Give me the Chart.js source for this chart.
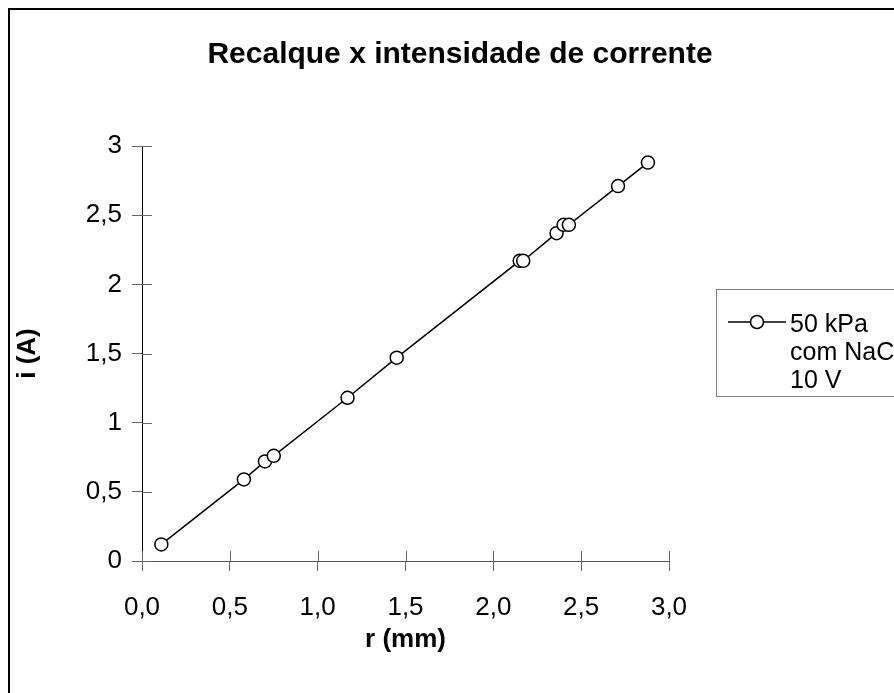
<!DOCTYPE html>
<html>
<head>
<meta charset="utf-8">
<script src="https://cdn.jsdelivr.net/npm/chart.js@4/dist/chart.umd.min.js"></script>
<style>
  html, body { margin: 0; padding: 0; background: #fff; }
  #wrap { width: 894px; height: 693px; }
</style>
</head>
<body>
<div id="wrap"><canvas id="chart" width="894" height="693"></canvas></div>
<script>
// settlement r (mm) against current i (A)
const rValues = [0.11, 0.58, 0.70, 0.75, 1.17, 1.45, 2.15, 2.17, 2.36, 2.40, 2.43, 2.71, 2.88];
const iValues = [0.12, 0.59, 0.72, 0.76, 1.18, 1.47, 2.17, 2.17, 2.37, 2.43, 2.43, 2.71, 2.88];
const legendLines = ['50 kPa', 'com NaCl', '10 V'];
const chartTitle = 'Recalque x intensidade de corrente';
const xTitle = 'r (mm)';
const yTitle = 'i (A)';

const FONT = "'Liberation Sans', Arial, sans-serif";
const comma = v => String(v).replace('.', ',');

// frame, title, legend box and the inner half of the tick marks
const decor = {
  id: 'decor',
  beforeDraw(chart) {
    const ctx = chart.ctx;
    ctx.save();
    ctx.fillStyle = '#fff';
    ctx.fillRect(0, 0, chart.width, chart.height);
    ctx.strokeStyle = '#000';
    ctx.lineWidth = 2;
    ctx.strokeRect(9, 9, 910, 710);
    ctx.restore();
  },
  afterDraw(chart) {
    const ctx = chart.ctx;
    const { x, y } = chart.scales;
    ctx.save();

    // tick marks cross the axes
    ctx.strokeStyle = '#666';
    ctx.lineWidth = 1;
    ctx.beginPath();
    x.ticks.forEach(t => {
      const px = Math.round(x.getPixelForValue(t.value)) + 0.5;
      ctx.moveTo(px, x.top);
      ctx.lineTo(px, x.top - 10);
    });
    y.ticks.forEach(t => {
      const py = Math.round(y.getPixelForValue(t.value)) + 0.5;
      ctx.moveTo(y.right, py);
      ctx.lineTo(y.right + 10, py);
    });
    ctx.stroke();

    // title
    ctx.fillStyle = '#000';
    ctx.font = 'bold 30px ' + FONT;
    ctx.textAlign = 'center';
    ctx.textBaseline = 'middle';
    ctx.fillText(chartTitle, 460, 55);

    // legend
    const ds = chart.data.datasets[0];
    ctx.strokeStyle = '#808080';
    ctx.lineWidth = 1;
    ctx.strokeRect(716.5, 289.5, 300, 107);
    ctx.strokeStyle = ds.borderColor;
    ctx.lineWidth = ds.borderWidth;
    ctx.beginPath();
    ctx.moveTo(728, 322);
    ctx.lineTo(786, 322);
    ctx.stroke();
    ctx.beginPath();
    ctx.arc(757, 322, ds.pointRadius, 0, Math.PI * 2);
    ctx.fillStyle = ds.pointBackgroundColor;
    ctx.fill();
    ctx.lineWidth = ds.pointBorderWidth;
    ctx.strokeStyle = ds.pointBorderColor;
    ctx.stroke();
    ctx.fillStyle = '#000';
    ctx.font = '25px ' + FONT;
    ctx.textAlign = 'left';
    legendLines.forEach((s, k) => ctx.fillText(s, 790, 325 + k * 28));

    ctx.restore();
  }
};

new Chart(document.getElementById('chart'), {
  type: 'line',
  data: {
    datasets: [{
      label: legendLines.join(' '),
      data: rValues.map((r, k) => ({ x: r, y: iValues[k] })),
      borderColor: '#000',
      borderWidth: 1.5,
      pointRadius: 6.5,
      pointBackgroundColor: '#fff',
      pointBorderColor: '#000',
      pointBorderWidth: 1.5,
      tension: 0,
      fill: false
    }]
  },
  options: {
    responsive: false,
    animation: false,
    layout: { padding: { left: 0, top: 146, right: 225, bottom: 0 } },
    plugins: { legend: { display: false }, title: { display: false }, tooltip: { enabled: false } },
    scales: {
      x: {
        type: 'linear',
        min: 0,
        max: 3,
        afterFit: s => { s.height = 132; },
        grid: { drawOnChartArea: false, tickLength: 10, color: '#666' },
        border: { color: '#555', width: 1 },
        ticks: {
          stepSize: 0.5,
          padding: 21,
          color: '#000',
          font: { family: FONT, size: 26 },
          callback: v => v.toFixed(1).replace('.', ',')
        },
        title: {
          display: true,
          text: xTitle,
          color: '#000',
          font: { family: FONT, size: 26, weight: 'bold' },
          padding: { top: 0, bottom: 38 }
        }
      },
      y: {
        type: 'linear',
        min: 0,
        max: 3,
        afterFit: s => { s.width = 142; },
        grid: { drawOnChartArea: false, tickLength: 10, color: '#666' },
        border: { color: '#000', width: 1 },
        ticks: {
          stepSize: 0.5,
          padding: 10,
          color: '#000',
          font: { family: FONT, size: 26 },
          callback: v => comma(v)
        },
        title: {
          display: true,
          text: yTitle,
          color: '#000',
          font: { family: FONT, size: 26, weight: 'bold' },
          padding: { top: 12, bottom: 0 }
        }
      }
    }
  },
  plugins: [decor]
});
</script>
</body>
</html>
